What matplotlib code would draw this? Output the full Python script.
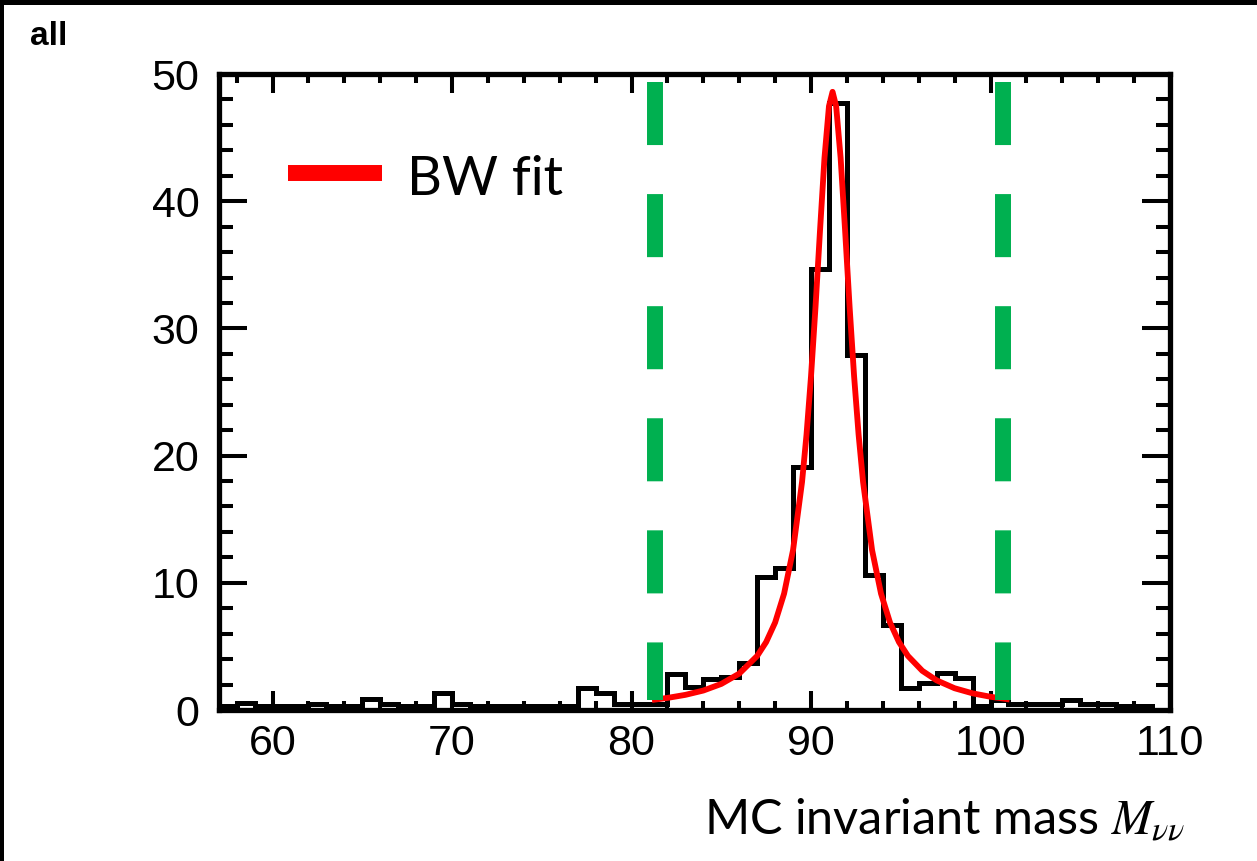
import matplotlib
matplotlib.use('Agg')
import matplotlib.pyplot as plt
from matplotlib.lines import Line2D
from matplotlib.patches import Rectangle
from matplotlib.ticker import MultipleLocator

# histogram: 1 GeV bins from 57 to 110
bin_edges = list(range(57, 111))
counts = [0.3, 0.55, 0.3, 0.3, 0.3, 0.5, 0.3, 0.3, 0.85, 0.5,
          0.35, 0.35, 1.3, 0.5, 0.3, 0.3, 0.3, 0.3, 0.3, 0.3,
          1.7, 1.3, 0.5, 0.5, 0.5, 2.8, 1.8, 2.45, 2.6, 3.7,
          10.45, 11.2, 19.1, 34.7, 47.7, 27.9, 10.6, 6.7, 1.7, 2.1,
          2.9, 2.55, 0.3, 0.75, 0.5, 0.5, 0.5, 0.8, 0.5, 0.5,
          0.3, 0.3, 0.0]

# BW fit curve
fit_x = [81.3, 82, 83, 84, 85, 86, 87, 87.5, 88, 88.5, 89, 89.5, 89.75, 90,
         90.25, 90.5, 90.75, 91, 91.2, 91.4, 91.65, 91.9, 92.15, 92.4, 92.65,
         92.9, 93.4, 93.9, 94.4, 94.9, 95.4, 96.2, 97, 98, 99, 100, 100.9]
fit_y = [0.82, 0.95, 1.19, 1.53, 2.05, 2.86, 4.25, 5.34, 6.88, 9.15, 12.58,
         17.93, 21.66, 26.24, 31.68, 37.67, 43.4, 47.47, 48.6, 47.47, 43.4,
         37.67, 31.68, 26.24, 21.66, 17.93, 12.58, 9.15, 6.88, 5.34, 4.25,
         3.08, 2.33, 1.71, 1.31, 1.04, 0.86]

# mass window lines
window = [81.3, 100.7]
window_y = (49.4, 0.8)

W, H = 1257, 861
plt.rcParams['mathtext.fontset'] = 'stix'
fig = plt.figure(figsize=(W / 100, H / 100), dpi=100)
ax = fig.add_axes([218.7 / W, 1 - 710 / H, (1170 - 218.7) / W, (710 - 74) / H])

ax.stairs(counts, bin_edges, color='black', lw=3.6, zorder=2)
ax.plot(fit_x, fit_y, color='#ff0000', lw=4.2, zorder=3)

glw = 11.5
for xv in window:
    ax.plot([xv, xv], list(window_y), color='#00b050', lw=glw,
            dashes=(45.4 / glw, 35.3 / glw), solid_capstyle='butt',
            dash_capstyle='butt', zorder=4, clip_on=False)

ax.set_xlim(57, 110)
ax.set_ylim(0, 50)
ax.xaxis.set_major_locator(MultipleLocator(10))
ax.xaxis.set_minor_locator(MultipleLocator(2))
ax.yaxis.set_major_locator(MultipleLocator(10))
ax.yaxis.set_minor_locator(MultipleLocator(2))

for s in ax.spines.values():
    s.set_linewidth(3.8)
ax.tick_params(axis='x', which='both', direction='in', top=True, width=2.9,
               labelsize=31, pad=10)
ax.tick_params(axis='x', which='major', length=13.7)
ax.tick_params(axis='x', which='minor', length=6.8)
ax.tick_params(axis='y', which='both', direction='in', right=True, width=2.9,
               labelsize=31, pad=14)
ax.tick_params(axis='y', which='major', length=20.5)
ax.tick_params(axis='y', which='minor', length=10)
for lab in ax.get_xticklabels() + ax.get_yticklabels():
    lab.set_fontfamily('Liberation Sans')

# legend drawn as overlay
fig.add_artist(Line2D([288 / W, 382 / W], [1 - 173 / H, 1 - 173 / H],
                      color='#ff0000', lw=11.5, solid_capstyle='butt'))
fig.text(407 / W, 1 - 195 / H, 'BW fit', fontsize=39, family='Lato',
         va='baseline', ha='left')

fig.text(1186 / W, 1 - 834 / H, r'MC invariant mass $M_{\nu\nu}$', fontsize=35,
         family='Lato', va='baseline', ha='right')

fig.text(30 / W, 1 - 45 / H, 'all', fontsize=24, family='Liberation Sans',
         weight='bold', va='baseline', ha='left')

# black frame on top and left edges
fig.add_artist(Rectangle((0, 1 - 5 / H), 1, 5 / H, transform=fig.transFigure,
                         color='black', lw=0))
fig.add_artist(Rectangle((0, 0), 4 / W, 1, transform=fig.transFigure,
                         color='black', lw=0))

fig.savefig('out.png', dpi=100)
